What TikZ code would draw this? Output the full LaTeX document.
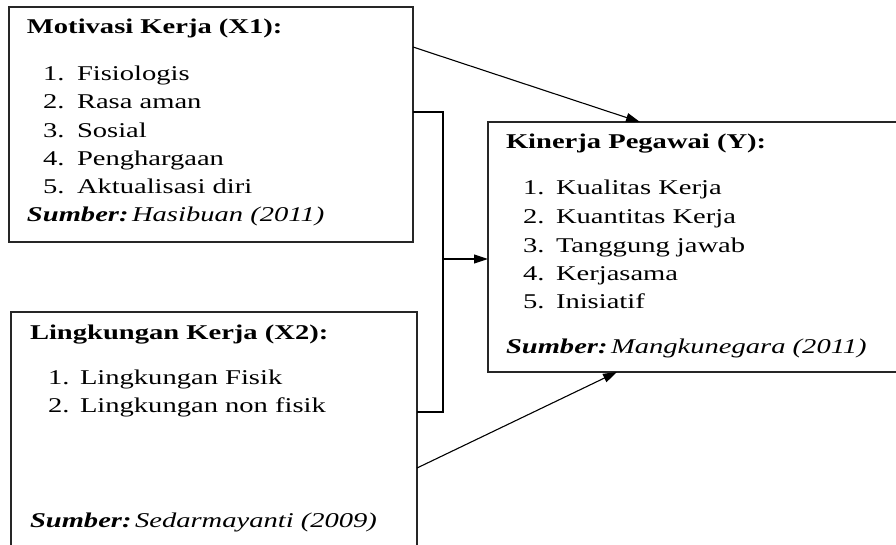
\documentclass[tikz,border=0pt]{standalone}
\usepackage{fontspec}
\setmainfont[FakeStretch=1.36]{Liberation Serif}
\usetikzlibrary{arrows.meta}
\begin{document}
\begin{tikzpicture}[x=1pt,y=-1pt,
  box/.style={draw=black!85,line width=1.3pt,rectangle,inner sep=0pt,outer sep=0pt},
  txt/.style={anchor=base west,inner sep=0pt,outer sep=0pt,font=\fontsize{21}{25}\selectfont},
  arr/.style={line width=1.1pt,-{Triangle[length=14pt,width=9pt]}},
  ln/.style={line width=1.1pt}]
\useasboundingbox (0,0) rectangle (896,544);
% boxes
\node[box,minimum width=404pt,minimum height=235pt] (x1) at (211,124.5) {};
\node[box,minimum width=417pt,minimum height=250pt] (y) at (696.5,247) {};
\node[box,minimum width=406pt,minimum height=238pt] (x2) at (214,431) {};
% X1 texts
\node[txt] (x1t) at (27,33) {\textbf{Motivasi Kerja (X1):}};
\node[txt] (x1n1) at (43,80) {1.}; \node[txt] (x1a) at (77,80) {Fisiologis};
\node[txt] (x1n2) at (43,108) {2.}; \node[txt] (x1b) at (77,108) {Rasa aman};
\node[txt] (x1n3) at (43,137) {3.}; \node[txt] (x1c) at (77,137) {Sosial};
\node[txt] (x1n4) at (43,165) {4.}; \node[txt] (x1d) at (77,165) {Penghargaan};
\node[txt] (x1n5) at (43,193) {5.}; \node[txt] (x1e) at (77,193) {Aktualisasi diri};
\node[txt] (x1s) at (27,221) {\textbf{\textit{Sumber:}}\,\textit{Hasibuan (2011)}};
% Y texts
\node[txt] (yt) at (506,148) {\textbf{Kinerja Pegawai (Y):}};
\node[txt] (yn1) at (523,194) {1.}; \node[txt] (ya) at (556,194) {Kualitas Kerja};
\node[txt] (yn2) at (523,223) {2.}; \node[txt] (yb) at (556,223) {Kuantitas Kerja};
\node[txt] (yn3) at (523,252) {3.}; \node[txt] (yc) at (556,252) {Tanggung jawab};
\node[txt] (yn4) at (523,280) {4.}; \node[txt] (yd) at (556,280) {Kerjasama};
\node[txt] (yn5) at (523,308) {5.}; \node[txt] (ye) at (556,308) {Inisiatif};
\node[txt] (ys) at (506,353) {\textbf{\textit{Sumber:}}\,\textit{Mangkunegara (2011)}};
% X2 texts
\node[txt] (x2t) at (30,339) {\textbf{Lingkungan Kerja (X2):}};
\node[txt] (x2n1) at (48,384) {1.}; \node[txt] (x2a) at (80,384) {Lingkungan Fisik};
\node[txt] (x2n2) at (48,412) {2.}; \node[txt] (x2b) at (80,412) {Lingkungan non fisik};
\node[txt] (x2s) at (30,527) {\textbf{\textit{Sumber:}}\,\textit{Sedarmayanti (2009)}};
% connectors
\coordinate (bt) at (443,112);
\coordinate (bb) at (443,412);
\coordinate (bm) at (443,259);
\coordinate (p1) at (0,47);
\coordinate (q1) at (640,0);
\coordinate (p2) at (0,468);
\coordinate (q2) at (617,0);
\draw[arr] (x1.east |- p1) -- (y.north -| q1);
\draw[ln] (x1.east |- bt) -- (bt) -- (bb) -- (x2.east |- bb);
\draw[arr] (bm) -- (y.west |- bm);
\draw[arr] (x2.east |- p2) -- (y.south -| q2);
\end{tikzpicture}
\end{document}
